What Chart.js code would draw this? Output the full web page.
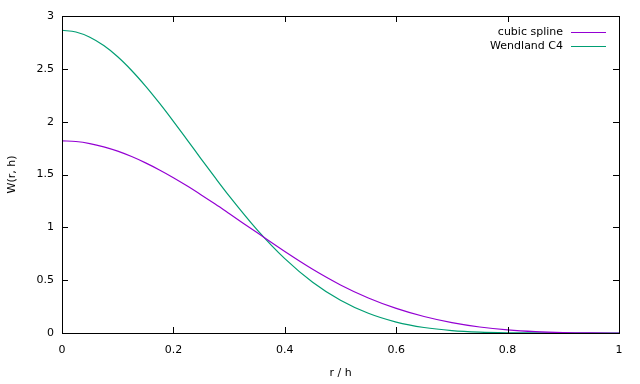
<!DOCTYPE html>
<html>
<head>
<meta charset="utf-8">
<script src="https://cdn.jsdelivr.net/npm/chart.js@4"></script>
<style>
  html, body { margin: 0; padding: 0; background: #fff; }
  #wrap { width: 640px; height: 384px; }
</style>
</head>
<body>
<div id="wrap"><canvas id="kernels"></canvas></div>
<script>
'use strict';

// r/h sample positions (denser near the peak)
var rh = [0, 0.025, 0.05, 0.075, 0.1, 0.125, 0.15, 0.175, 0.2, 0.225, 0.25, 0.275, 0.3,
  0.35, 0.4, 0.45, 0.5, 0.55, 0.6, 0.65, 0.7, 0.75, 0.8, 0.85, 0.9, 0.95, 1];

var cubicSpline = [1.819, 1.8122, 1.793, 1.7621, 1.721, 1.6697, 1.610, 1.5432, 1.470, 1.3907, 1.307, 1.2206, 1.131,
  0.950, 0.771, 0.603, 0.455, 0.3315, 0.2328, 0.156, 0.0982, 0.0568, 0.0291, 0.0123, 0.0036, 0.00045, 0];

var wendlandC4 = [2.865, 2.8482, 2.799, 2.7198, 2.614, 2.4844, 2.3365, 2.1745, 2.0027, 1.8253, 1.6465, 1.4695, 1.2976,
  0.9786, 0.7039, 0.4808, 0.3096, 0.1863, 0.1033, 0.0518, 0.0228, 0.0084, 0.0024, 0.0005, 0.00005, 0, 0];

var xTicks = [0, 0.2, 0.4, 0.6, 0.8, 1];
var yTicks = [0, 0.5, 1, 1.5, 2, 2.5, 3];

var seriesNames = ['cubic spline', 'Wendland C4'];
var seriesColors = ['#9400d3', '#009e73'];

var font = { family: 'DejaVu Sans', size: 11 };

var toPoints = function (ys) {
  var pts = [];
  for (var i = 0; i < rh.length; i++) {
    pts.push({ x: rh[i], y: ys[i] });
  }
  return pts;
};

var plainLabel = function (v) {
  return String(Math.round(v * 10) / 10);
};

// gnuplot-like frame with inward ticks on all four sides, plus the key
var framePlugin = {
  id: 'frame',
  afterDatasetsDraw: function (chart) {
    var ctx = chart.ctx;
    var a = chart.chartArea;
    var xs = chart.scales.x;
    var ys = chart.scales.y;
    var len = 6;
    ctx.save();
    ctx.strokeStyle = '#000';
    ctx.lineWidth = 1;
    ctx.beginPath();
    xTicks.forEach(function (v) {
      var px = Math.round(xs.getPixelForValue(v)) + 0.5;
      ctx.moveTo(px, a.bottom); ctx.lineTo(px, a.bottom - len);
      ctx.moveTo(px, a.top); ctx.lineTo(px, a.top + len);
    });
    yTicks.forEach(function (v) {
      var py = Math.round(ys.getPixelForValue(v)) + 0.5;
      ctx.moveTo(a.left, py); ctx.lineTo(a.left + len, py);
      ctx.moveTo(a.right, py); ctx.lineTo(a.right - len, py);
    });
    ctx.stroke();
    ctx.strokeRect(Math.round(a.left) + 0.5, Math.round(a.top) + 0.5,
      Math.round(a.right - a.left), Math.round(a.bottom - a.top));

    // key
    ctx.font = font.size + 'px ' + font.family;
    ctx.textAlign = 'right';
    ctx.textBaseline = 'middle';
    for (var i = 0; i < seriesNames.length; i++) {
      var y = a.top + 16 + i * 14;
      ctx.fillStyle = '#000';
      ctx.fillText(seriesNames[i], a.right - 56, y);
      ctx.strokeStyle = seriesColors[i];
      ctx.lineWidth = 1.2;
      ctx.beginPath();
      ctx.moveTo(a.right - 48, y + 0.5);
      ctx.lineTo(a.right - 13, y + 0.5);
      ctx.stroke();
    }
    ctx.restore();
  }
};

new Chart(document.getElementById('kernels').getContext('2d'), {
  type: 'line',
  data: {
    datasets: [{
      label: seriesNames[0],
      data: toPoints(cubicSpline),
      borderColor: seriesColors[0],
      borderWidth: 1.2,
      pointRadius: 0,
      cubicInterpolationMode: 'monotone'
    }, {
      label: seriesNames[1],
      data: toPoints(wendlandC4),
      borderColor: seriesColors[1],
      borderWidth: 1.2,
      pointRadius: 0,
      cubicInterpolationMode: 'monotone'
    }]
  },
  options: {
    responsive: true,
    maintainAspectRatio: false,
    animation: false,
    layout: { padding: { top: 16, right: 21, left: 0, bottom: 0 } },
    plugins: {
      legend: { display: false },
      tooltip: { enabled: false }
    },
    scales: {
      x: {
        type: 'linear',
        min: 0,
        max: 1,
        afterFit: function (s) { s.height = 51; },
        afterBuildTicks: function (s) {
          s.ticks = xTicks.map(function (v) { return { value: v }; });
        },
        grid: { display: false, drawTicks: false },
        border: { display: false },
        ticks: { color: '#000', font: font, padding: 11, maxRotation: 0, callback: plainLabel },
        title: { display: true, text: 'r / h', color: '#000', font: font, padding: { top: 0, bottom: 4 } }
      },
      y: {
        type: 'linear',
        min: 0,
        max: 3,
        afterFit: function (s) { s.width = 62; },
        afterBuildTicks: function (s) {
          s.ticks = yTicks.map(function (v) { return { value: v }; });
        },
        grid: { display: false, drawTicks: false },
        border: { display: false },
        ticks: { color: '#000', font: font, padding: 8, callback: plainLabel },
        title: { display: true, text: 'W(r, h)', color: '#000', font: font, padding: { top: 6, bottom: 0 } }
      }
    }
  },
  plugins: [framePlugin]
});
</script>
</body>
</html>
